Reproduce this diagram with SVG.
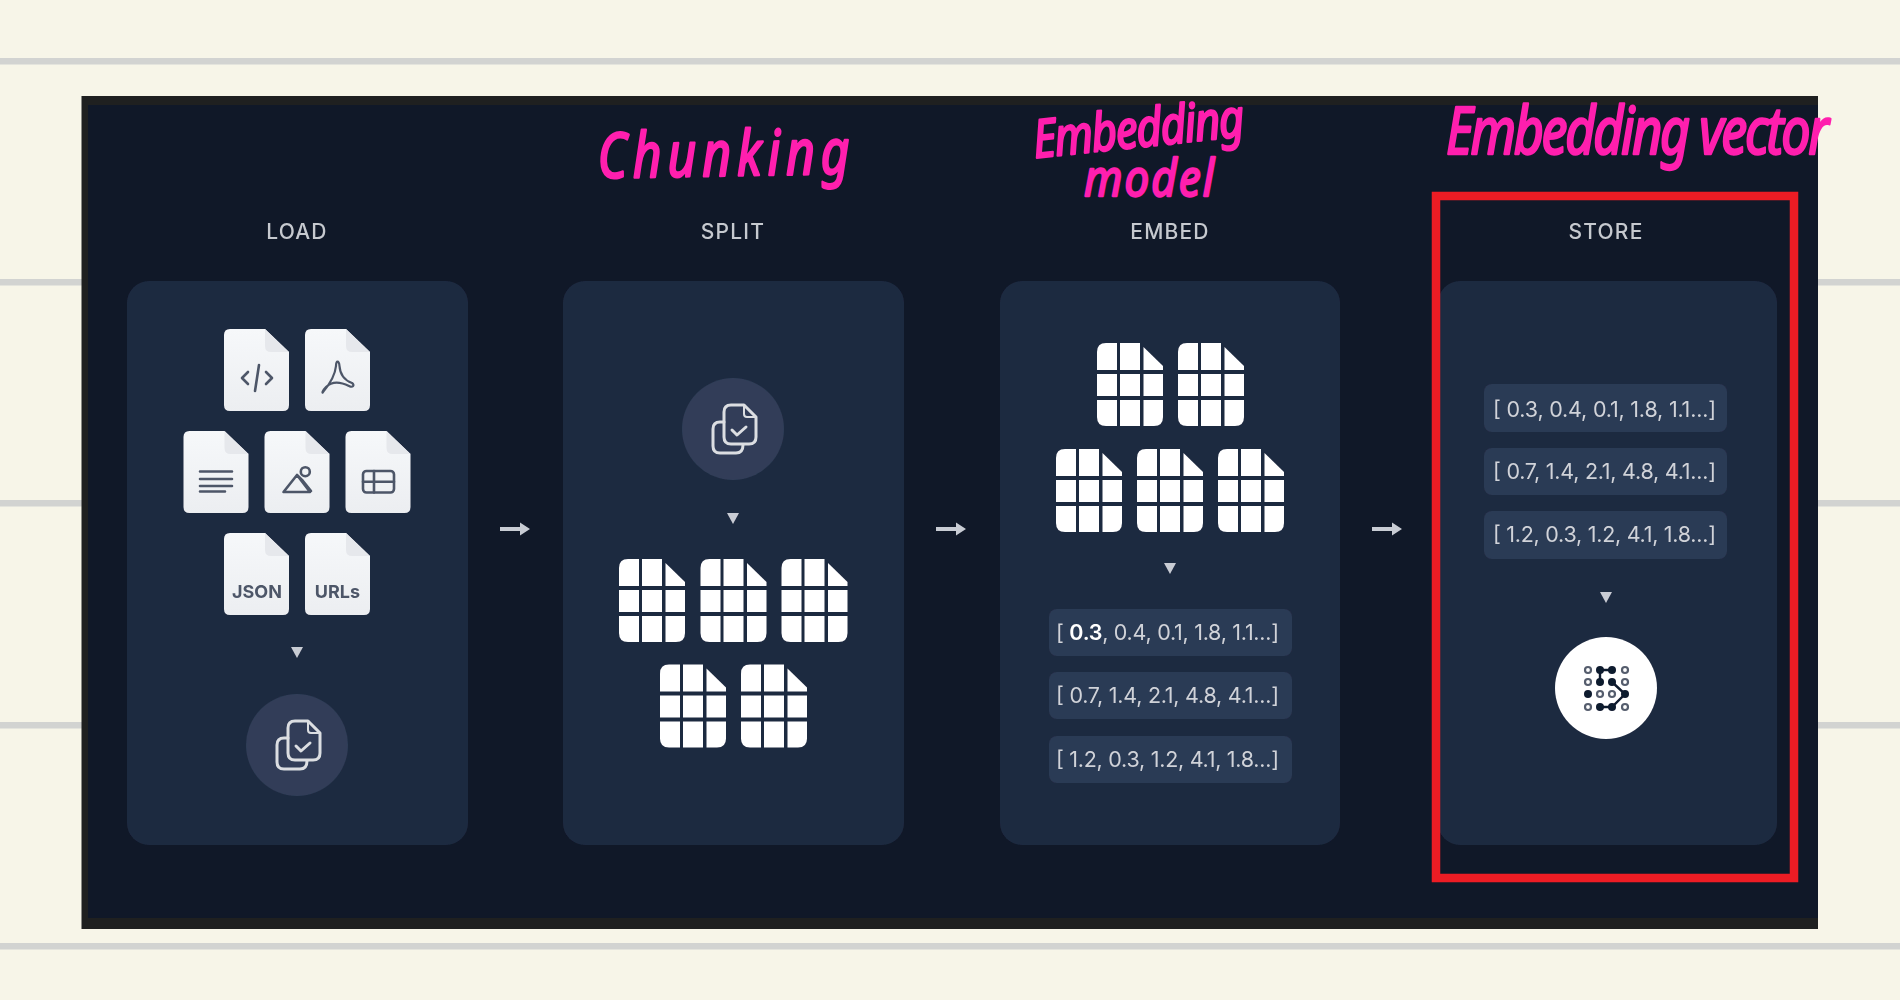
<svg xmlns="http://www.w3.org/2000/svg" width="1900" height="1000" viewBox="0 0 1900 1000">
<style>
.rule{fill:#d2d3d1}
.panel{fill:#1f2a41}
.lbl{font-family:Inter,"Liberation Sans",sans-serif;font-size:21px;font-weight:500;fill:#c6c9cf;text-anchor:middle;letter-spacing:1.2px}
.chip{fill:#2c3a54}
.vec{font-family:Inter,"Liberation Sans",sans-serif;font-size:21.500px;font-weight:400;fill:#d0d3d9}
.tri{fill:#c8ccd4}
.bub{fill:#303e58}
.ic{fill:none;stroke:#4d5668;stroke-width:2.6;stroke-linecap:round;stroke-linejoin:round}
.cp{fill:none;stroke:#dcdee2;stroke-width:3;stroke-linejoin:round;stroke-linecap:round}
.ftxt{font-family:Inter,"Liberation Sans",sans-serif;font-size:18px;font-weight:700;fill:#4d5668;text-anchor:middle}
.hand{font-family:"Noto Sans","Liberation Sans",sans-serif;font-style:italic;fill:#ff1fae;stroke:#ff1fae;stroke-width:2;stroke-linejoin:round}
.dot{fill:#111a2e}
.odot{fill:#fff;stroke:#555d6d;stroke-width:2.200}
.dl{fill:none;stroke:#111a2e;stroke-width:2.400}
</style>
<defs>
<linearGradient id="pg" x1="0" y1="0" x2="0" y2="1"><stop offset="0" stop-color="#f6f8fa"/><stop offset="1" stop-color="#eceef1"/></linearGradient>
<filter id="soft" x="-2%" y="-2%" width="104%" height="104%"><feGaussianBlur stdDeviation="0.6"/></filter>
<g id="doc">
<path d="M6 0H41L65 23V76Q65 82 59 82H6Q0 82 0 76V6Q0 0 6 0Z" fill="url(#pg)"/>
<path d="M41 0L65 23H47Q41 23 41 17Z" fill="#e6e8ec"/>
</g>
<g id="grid" fill="#fff">
<path d="M20 0V27H0V9Q0 0 9 0Z"/>
<path d="M23 0H43V27H23Z"/>
<path d="M46.500 4L66 23V27H46.500Z"/>
<path d="M0 31H20V53H0Z"/>
<path d="M23 31H43V53H23Z"/>
<path d="M46.500 31H66V53H46.500Z"/>
<path d="M0 57H20V83H9Q0 83 0 74Z"/>
<path d="M23 57H43V83H23Z"/>
<path d="M46.500 57H66V74Q66 83 57 83H46.500Z"/>
</g>
<g id="copy" class="cp">
<path d="M-9 -7H-13Q-20 -7 -20 0V17Q-20 24 -13 24H3Q10 24 10 16"/>
<path d="M-2 -24H11L23 -12V8Q23 15 16 15H-2Q-9 15 -9 8V-17Q-9 -24 -2 -24Z"/>
<path d="M11 -23V-15Q11 -12 14 -12H22" style="stroke-width:2"/>
<path d="M-1 1L4 6L13 -2"/>
</g>
<path id="tr" d="M-6 0H6L0 11Z"/>
</defs>
<rect width="1900" height="1000" fill="#f7f5e8"/>
<g id="ruled-lines">
<rect class="rule" x="0" y="58" width="1900" height="6.500"/>
<rect class="rule" x="0" y="279" width="1900" height="6.500"/>
<rect class="rule" x="0" y="500" width="1900" height="6.500"/>
<rect class="rule" x="0" y="722" width="1900" height="6.500"/>
<rect class="rule" x="0" y="943" width="1900" height="6.500"/>
</g>
<rect id="frame" x="81.500" y="96" width="1736.500" height="833" fill="#1f2020"/>
<rect id="backdrop" x="88" y="105" width="1730" height="813" fill="#101828"/>
<g filter="url(#soft)">
<g id="load">
<rect class="panel" x="127" y="281" width="341" height="564" rx="22"/>
<text class="lbl" x="297" y="239">LOAD</text>
<use href="#doc" x="224" y="329"/><use href="#doc" x="305" y="329"/>
<use href="#doc" x="183.500" y="431"/><use href="#doc" x="264.500" y="431"/><use href="#doc" x="345.500" y="431"/>
<use href="#doc" x="224" y="533"/><use href="#doc" x="305" y="533"/>
<path class="ic" d="M248 372L242 378L248 384M266 372L272 378L266 384M259 365L255 391"/>
<path class="ic" style="stroke-width:2.200" d="M323 392C329 385 335 376 336 366C336 360 339 360 339.500 366C340 374 344 380 352 383C355 385 353 388 349 386C343 383 333 380 326 387C322 391 322 394 323 392Z"/>
<path class="ic" d="M200 471.500H232M200 479H232M200 486H232M200 491.500H225"/>
<path class="ic" d="M283.500 492H310L297 475ZM297 475L303 481M303 481L311 491"/>
<circle class="ic" cx="305.300" cy="471.700" r="4.500"/>
<rect class="ic" x="363" y="471" width="31" height="21.500" rx="3.500"/>
<path class="ic" d="M363 481.700H394M374 471V492.500"/>
<text class="ftxt" x="257" y="598">JSON</text>
<text class="ftxt" x="337.500" y="598">URLs</text>
<use class="tri" href="#tr" x="297" y="647"/>
<circle class="bub" cx="297" cy="745" r="51"/>
<use href="#copy" x="297" y="745"/>
</g>
<g id="split">
<rect class="panel" x="563" y="281" width="341" height="564" rx="22"/>
<text class="lbl" x="733" y="239">SPLIT</text>
<circle class="bub" cx="733" cy="429" r="51"/>
<use href="#copy" x="733" y="429"/>
<use class="tri" href="#tr" x="733" y="513"/>
<use href="#grid" x="619" y="559"/><use href="#grid" x="700.500" y="559"/><use href="#grid" x="781.500" y="559"/>
<use href="#grid" x="660" y="664.500"/><use href="#grid" x="741" y="664.500"/>
</g>
<g id="embed">
<rect class="panel" x="1000" y="281" width="340" height="564" rx="22"/>
<text class="lbl" x="1170" y="239">EMBED</text>
<use href="#grid" x="1097" y="343"/><use href="#grid" x="1178" y="343"/>
<use href="#grid" x="1056" y="449"/><use href="#grid" x="1137" y="449"/><use href="#grid" x="1218" y="449"/>
<use class="tri" href="#tr" x="1170" y="563"/>
<rect class="chip" x="1049" y="609" width="243" height="47" rx="8"/>
<rect class="chip" x="1049" y="672" width="243" height="47" rx="8"/>
<rect class="chip" x="1049" y="736" width="243" height="47" rx="8"/>
<text class="vec" x="1056" y="640" textLength="223">[ <tspan font-weight="600" fill="#fff">0.3</tspan>, 0.4, 0.1, 1.8, 1.1...]</text>
<text class="vec" x="1056" y="703" textLength="223">[ 0.7, 1.4, 2.1, 4.8, 4.1...]</text>
<text class="vec" x="1056" y="767" textLength="223">[ 1.2, 0.3, 1.2, 4.1, 1.8...]</text>
</g>
<g id="store">
<rect class="panel" x="1438" y="281" width="339" height="564" rx="22"/>
<text class="lbl" x="1606" y="239">STORE</text>
<rect class="chip" x="1484" y="384" width="243" height="48" rx="8"/>
<rect class="chip" x="1484" y="448" width="243" height="47" rx="8"/>
<rect class="chip" x="1484" y="511" width="243" height="48" rx="8"/>
<text class="vec" x="1493" y="417" textLength="223">[ 0.3, 0.4, 0.1, 1.8, 1.1...]</text>
<text class="vec" x="1493" y="479" textLength="223">[ 0.7, 1.4, 2.1, 4.8, 4.1...]</text>
<text class="vec" x="1493" y="542" textLength="223">[ 1.2, 0.3, 1.2, 4.1, 1.8...]</text>
<use class="tri" href="#tr" x="1606" y="592"/>
<circle cx="1606" cy="688" r="51" fill="#fff"/>
<path class="dl" d="M1600 670H1612M1600 670V682M1612 682L1625 694L1612 707H1600"/>
<g class="dot"><circle cx="1600" cy="670" r="4"/><circle cx="1612" cy="670" r="4"/><circle cx="1600" cy="682" r="4"/><circle cx="1612" cy="682" r="4"/><circle cx="1588" cy="694" r="4"/><circle cx="1625" cy="694" r="4"/><circle cx="1600" cy="707" r="4"/><circle cx="1612" cy="707" r="4"/></g>
<g class="odot"><circle cx="1588" cy="670" r="3"/><circle cx="1625" cy="670" r="3"/><circle cx="1588" cy="682" r="3"/><circle cx="1625" cy="682" r="3"/><circle cx="1600" cy="694" r="3"/><circle cx="1612" cy="694" r="3"/><circle cx="1588" cy="707" r="3"/><circle cx="1625" cy="707" r="3"/></g>
</g>
<g id="connectors" fill="#c8ccd4">
<path d="M500 527H520V522.500L530 529L520 535.500V531H500Z"/>
<path d="M936 527H956V522.500L966 529L956 535.500V531H936Z"/>
<path d="M1372 527H1392V522.500L1402 529L1392 535.500V531H1372Z"/>
</g>
</g>
<rect id="highlight" x="1436" y="196" width="358" height="682" fill="none" stroke="#ed1c24" stroke-width="8.500"/>
<g id="annotations">
<text class="hand" transform="translate(598 178) rotate(-1) scale(1 1.25)" font-size="50" textLength="252">Chunking</text>
<text class="hand" transform="translate(1035 158) rotate(-6) scale(1 1.2)" font-size="44" textLength="212">Embedding</text>
<text class="hand" transform="translate(1084 196) scale(1 1.15)" font-size="44" textLength="130">model</text>
<text class="hand" transform="translate(1446 154) scale(1 1.25)" font-size="52" textLength="383">Embedding vector</text>
</g>
</svg>
